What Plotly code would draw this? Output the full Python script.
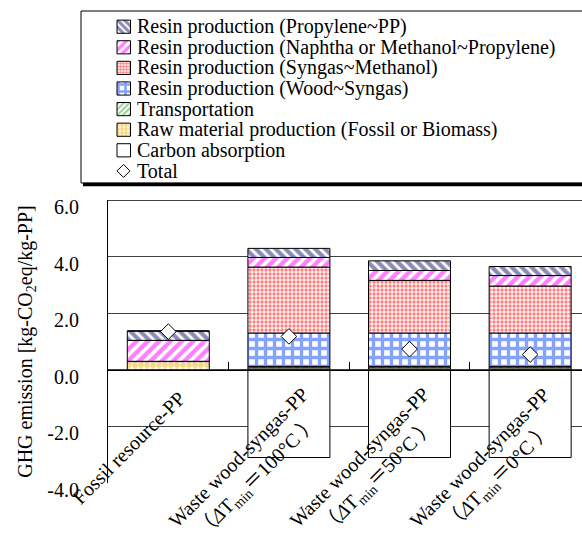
import plotly.graph_objects as go

# ---------------- data ----------------
categories = [
    "Fossil resource-PP",
    "Waste wood-syngas-PP<br>（<i>Δ</i>T<sub>min</sub>＝100°C ）",
    "Waste wood-syngas-PP<br>（<i>Δ</i>T<sub>min</sub>＝50°C ）",
    "Waste wood-syngas-PP<br>（<i>Δ</i>T<sub>min</sub>＝0°C ）",
]
raw_material = [0.29, 0.07, 0.07, 0.07]
transportation = [0.01, 0.05, 0.05, 0.05]
wood_syngas = [0.00, 1.18, 1.18, 1.18]
syngas_methanol = [0.00, 2.33, 1.86, 1.66]
naphtha_methanol_propylene = [0.74, 0.34, 0.35, 0.37]
propylene_pp = [0.33, 0.32, 0.34, 0.32]
carbon_absorption = [0.00, -3.10, -3.10, -3.10]
total = [1.35, 1.18, 0.73, 0.54]

legend_labels = [
    "Resin production (Propylene~PP)",
    "Resin production (Naphtha or Methanol~Propylene)",
    "Resin production (Syngas~Methanol)",
    "Resin production (Wood~Syngas)",
    "Transportation",
    "Raw material production (Fossil or Biomass)",
    "Carbon absorption",
    "Total",
]
y_ticks = [-4, -2, 0, 2, 4, 6]
y_tick_text = ["-4.0", "-2.0", "0.0", "2.0", "4.0", "6.0"]

# ---------------- styles ----------------
FONT = "Liberation Serif, Times New Roman, Noto Sans CJK JP, serif"
styles = {
    "prop": dict(shape="\\", fgcolor="#16166e", bgcolor="white", size=7, solidity=0.6),
    "naph": dict(shape="/", fgcolor="#ff00ff", bgcolor="white", size=8, solidity=0.55),
    "syn": dict(shape=".", fgcolor="#ff0000", bgcolor="white", size=4, solidity=0.55),
    "wood": dict(shape="+", fgcolor="#0a46ff", bgcolor="white", size=9, solidity=0.6),
    "trans": dict(shape="/", fgcolor="#2e9e2e", bgcolor="white", size=6, solidity=0.5),
    "raw": dict(shape=".", fgcolor="#f0b000", bgcolor="white", size=6, solidity=0.7),
    "carb": None,
}
series = [
    ("raw", raw_material),
    ("trans", transportation),
    ("wood", wood_syngas),
    ("syn", syngas_methanol),
    ("naph", naphtha_methanol_propylene),
    ("prop", propylene_pp),
    ("carb", carbon_absorption),
]

xpos = list(range(len(categories)))
fig = go.Figure()
for key, vals in series:
    pat = styles[key]
    marker = dict(color="white", line=dict(color="black", width=1))
    if pat:
        marker["pattern"] = pat
    fig.add_trace(go.Bar(x=xpos, y=vals, marker=marker, showlegend=False,
                         xaxis="x", yaxis="y"))

fig.add_trace(go.Scatter(x=xpos, y=total, mode="markers", showlegend=False,
                         marker=dict(symbol="diamond", size=12, color="white",
                                     line=dict(color="black", width=1)),
                         xaxis="x", yaxis="y"))

# ---------------- custom legend (axes x2/y2) ----------------
leg_keys = ["prop", "naph", "syn", "wood", "trans", "raw", "carb"]
for i, key in enumerate(leg_keys):
    pat = styles[key]
    marker = dict(color="white", line=dict(color="black", width=1))
    if pat:
        marker["pattern"] = dict(pat)
        marker["pattern"]["size"] = max(3, pat["size"] - 2)
    fig.add_trace(go.Bar(y=[i], x=[13.5], base=[117], orientation="h", width=0.64,
                         marker=marker, showlegend=False, xaxis="x2", yaxis="y2"))
fig.add_trace(go.Scatter(x=[123.5], y=[7], mode="markers", showlegend=False,
                         marker=dict(symbol="diamond", size=10, color="white",
                                     line=dict(color="black", width=1)),
                         xaxis="x2", yaxis="y2"))

annotations = []
for i, lab in enumerate(legend_labels):
    annotations.append(dict(x=135, y=i, xref="x2", yref="y2", text=lab, showarrow=False,
                            xanchor="left", yanchor="middle",
                            font=dict(family=FONT, size=20, color="black")))

# category labels
for i, lab in enumerate(categories):
    annotations.append(dict(x=i, y=0, xref="x", yref="y", text=lab, showarrow=False,
                            textangle=-45, xanchor="center", yanchor="middle",
                            align="center", xshift=-40,
                            yshift=-78 if i == 0 else -98,
                            font=dict(family=FONT, size=20, color="black")))

H_PAPER = 541 - 58
def py(pix):
    return (H_PAPER - pix) / H_PAPER
def px(pix):
    return (pix - 80) / 502

ydom = [0, py(200)]
shapes = [
    # legend box
    dict(type="rect", xref="paper", yref="paper", x0=px(81), x1=1.02, y0=py(183), y1=py(11),
         line=dict(color="black", width=1), fillcolor="rgba(0,0,0,0)"),
    dict(type="line", xref="paper", yref="paper", x0=px(83), x1=1.02, y0=py(184.5), y1=py(184.5),
         line=dict(color="black", width=3.5)),
    # plot top border
    dict(type="line", xref="paper", yref="y", x0=px(108), x1=1.0, y0=6, y1=6,
         line=dict(color="#404040", width=2)),
]

fig.update_layout(
    width=582, height=541,
    margin=dict(l=80, r=0, t=0, b=58, autoexpand=False),
    paper_bgcolor="white", plot_bgcolor="white",
    barmode="relative", bargap=0.32,
    font=dict(family=FONT, size=20, color="black"),
    xaxis=dict(domain=[px(108), 1], range=[-0.5, 3.43], anchor="free",
               position=ydom[1] * 0.4, showline=True, linecolor="black", linewidth=1,
               tickvals=[0.5, 1.5, 2.5], ticks="inside", ticklen=8, tickcolor="black",
               showticklabels=False, showgrid=False, zeroline=False, fixedrange=True,
               automargin=False),
    yaxis=dict(domain=ydom, range=[-4, 6], tickvals=y_ticks, ticktext=y_tick_text,
               showline=True, linecolor="black", linewidth=1,
               showgrid=True, gridcolor="#404040", gridwidth=1, zeroline=False,
               ticks="", ticklabelstandoff=24, ticklabelshift=7, automargin=False,
               fixedrange=True,
               tickfont=dict(family=FONT, size=20, color="black"),
               title=dict(text="GHG emission [kg-CO<sub>2</sub>eq/kg-PP]", standoff=9,
                          font=dict(family=FONT, size=20, color="black"))),
    xaxis2=dict(domain=[0, 1], range=[80, 582], visible=False, anchor="y2", fixedrange=True,
                automargin=False),
    yaxis2=dict(domain=[py(183), py(11)], range=[7.587, -0.762], visible=False,
                anchor="x2", fixedrange=True, automargin=False),
    annotations=annotations,
    shapes=shapes,
    showlegend=False,
    hovermode=False,
)

fig.write_html("out.html", config={"displayModeBar": False},
               post_script="document.body.style.margin='0px';document.body.style.overflow='hidden';")
